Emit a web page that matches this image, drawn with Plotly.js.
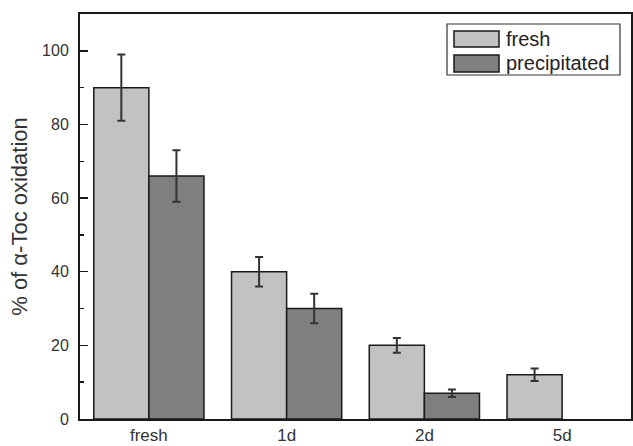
<!DOCTYPE html>
<html>
<head>
<meta charset="utf-8">
<script src="https://cdn.plot.ly/plotly-3.0.1.min.js"></script>
<style>
  html, body { margin: 0; padding: 0; background: #fff; }
  #chart { width: 633px; height: 446px; }
</style>
</head>
<body>
<div id="chart"></div>
<script>
// ---- data ----
const categories = ["fresh", "1d", "2d", "5d"];
const freshValues = [90, 40, 20, 12];
const freshErrors = [9, 4, 2, 1.7];
const precipitatedValues = [66, 30, 7, null];
const precipitatedErrors = [7, 4, 1, null];
const seriesNames = ["fresh", "precipitated"];
const yTickValues = [0, 20, 40, 60, 80, 100];

// ---- styles ----
const FONT = "Liberation Sans, Arial, sans-serif";
const lightGray = "#c2c2c2";
const darkGray = "#7f7f7f";
const outline = { color: "#1a1a1a", width: 1.5 };
const errStyle = { thickness: 2, width: 4, color: "#333333" };

const traces = [
  {
    type: "bar", name: seriesNames[0], x: categories, y: freshValues,
    marker: { color: lightGray, line: outline },
    error_y: Object.assign({ type: "data", array: freshErrors, visible: true }, errStyle),
    showlegend: false
  },
  {
    type: "bar", name: seriesNames[1], x: categories, y: precipitatedValues,
    marker: { color: darkGray, line: outline },
    error_y: Object.assign({ type: "data", array: precipitatedErrors, visible: true }, errStyle),
    showlegend: false
  }
];

// plot-area geometry in pixels (for the hand-drawn legend)
const W = 633, H = 446;
const M = { l: 80, r: 2, t: 14, b: 27 };
const pw = W - M.l - M.r, ph = H - M.t - M.b;
const px = x => (x - M.l) / pw;
const py = y => (H - M.b - y) / ph;

const legendShapes = [
  { type: "rect", xref: "paper", yref: "paper", x0: px(447), x1: px(620), y0: py(75), y1: py(24),
    line: { color: "#333", width: 1.2 }, fillcolor: "#fff" },
  { type: "rect", xref: "paper", yref: "paper", x0: px(454), x1: px(499), y0: py(47), y1: py(31),
    line: { color: "#1a1a1a", width: 1.5 }, fillcolor: lightGray },
  { type: "rect", xref: "paper", yref: "paper", x0: px(454), x1: px(499), y0: py(72), y1: py(55),
    line: { color: "#1a1a1a", width: 1.5 }, fillcolor: darkGray }
];
const legendTexts = [
  { text: seriesNames[0], xref: "paper", yref: "paper", x: px(504), y: py(39), xanchor: "left", yanchor: "middle",
    showarrow: false, font: { family: FONT, size: 20, color: "#222" } },
  { text: seriesNames[1], xref: "paper", yref: "paper", x: px(504), y: py(63), xanchor: "left", yanchor: "middle",
    showarrow: false, font: { family: FONT, size: 20, color: "#222" } }
];

const layout = {
  width: W, height: H,
  margin: M,
  paper_bgcolor: "#fff", plot_bgcolor: "#fff",
  barmode: "group", bargap: 0.2, bargroupgap: 0,
  font: { family: FONT, size: 16, color: "#333" },
  xaxis: {
    type: "category", range: [-0.5, 3.5],
    showline: true, linecolor: "#1a1a1a", linewidth: 2, mirror: true,
    ticks: "", showgrid: false, zeroline: false,
    tickfont: { family: FONT, size: 17, color: "#333" }
  },
  yaxis: {
    range: [0, 110], tickvals: yTickValues,
    showline: true, linecolor: "#1a1a1a", linewidth: 2, mirror: true,
    ticks: "inside", ticklen: 8, tickwidth: 1.5, tickcolor: "#1a1a1a",
    minor: { dtick: 10, ticks: "inside", ticklen: 4, tickwidth: 1.5, tickcolor: "#1a1a1a", showgrid: false },
    showgrid: false, zeroline: false,
    ticklabelstandoff: 6,
    tickfont: { family: FONT, size: 16, color: "#333" },
    title: { text: "% of α-Toc oxidation", font: { family: FONT, size: 22, color: "#333" }, standoff: 8 }
  },
  shapes: legendShapes,
  annotations: legendTexts,
  showlegend: false
};

Plotly.newPlot("chart", traces, layout, { displayModeBar: false, staticPlot: true });
</script>
</body>
</html>
